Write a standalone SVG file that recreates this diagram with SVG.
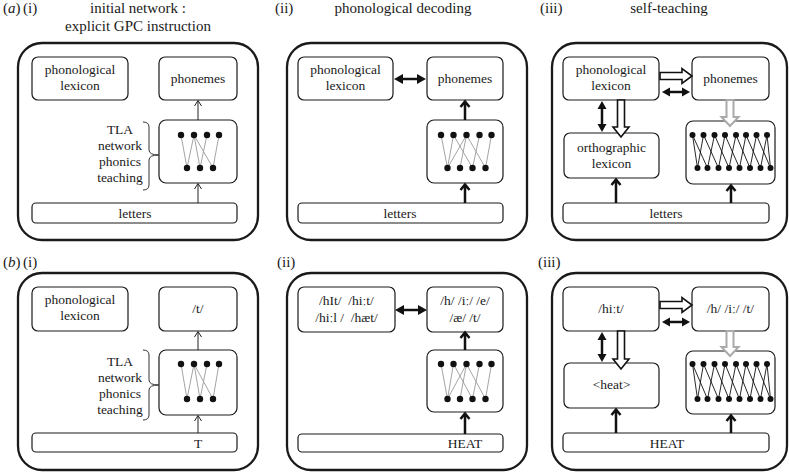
<svg xmlns="http://www.w3.org/2000/svg" width="789" height="473" viewBox="0 0 789 473">
<style>
.outer{fill:none;stroke:#1a1a1a;stroke-width:2.3}
.box{fill:#fff;stroke:#1a1a1a;stroke-width:1.2}
.t{font-family:"Liberation Serif","DejaVu Serif",serif;font-size:13.5px;fill:#1a1a1a;text-anchor:middle}
.title{font-family:"Liberation Serif","DejaVu Serif",serif;font-size:15px;fill:#1a1a1a}
.ct{text-anchor:middle}
.dot{fill:#111}
.gl{stroke:#9a9a9a;stroke-width:0.9}
.bl{stroke:#111;stroke-width:0.9}
.thin{fill:none;stroke:#222;stroke-width:1}
.thick{fill:none;stroke:#111;stroke-width:2.5}
.head{fill:#111}
.hollow{fill:#fff;stroke:#111;stroke-width:1.6}
.hollowg{fill:#fff;stroke:#aaa;stroke-width:2}
.brace{fill:none;stroke:#333;stroke-width:1}
</style>

<!-- titles -->
<g id="titles">
  <text class="title" x="3" y="13">(<tspan font-style="italic">a</tspan>)</text>
  <text class="title" x="23" y="13">(i)</text>
  <text class="title ct" x="138" y="13">initial network :</text>
  <text class="title ct" x="138" y="31">explicit GPC instruction</text>
  <text class="title" x="275" y="13">(ii)</text>
  <text class="title ct" x="403" y="13">phonological decoding</text>
  <text class="title" x="540" y="13">(iii)</text>
  <text class="title ct" x="669" y="13">self-teaching</text>
  <text class="title" x="3" y="267">(<tspan font-style="italic">b</tspan>)</text>
  <text class="title" x="23" y="267">(i)</text>
  <text class="title" x="277" y="267">(ii)</text>
  <text class="title" x="538" y="267">(iii)</text>
</g>

<!-- ===== (a)(i) ===== -->
<g id="a-i">
  <rect id="a-i-frame" class="outer" x="18" y="43" width="240" height="197" rx="24"/>
  <g id="a-i-lexicon"><rect class="box" x="32" y="57" width="96" height="43" rx="6"/>
    <text class="t" x="80" y="74">phonological</text><text class="t" x="80" y="90">lexicon</text></g>
  <g id="a-i-phonemes"><rect class="box" x="159" y="57" width="78" height="43" rx="6"/>
    <text class="t" x="198" y="83">phonemes</text></g>
  <g id="a-i-network"><rect class="box" x="159" y="120" width="78" height="63" rx="7"/>
    <g class="gl"><line x1="181" y1="135" x2="187" y2="168"/><line x1="194" y1="135" x2="187" y2="168"/><line x1="194" y1="135" x2="200" y2="168"/><line x1="194" y1="135" x2="213" y2="168"/><line x1="207" y1="135" x2="200" y2="168"/><line x1="219" y1="135" x2="213" y2="168"/></g>
    <g class="dot"><circle cx="181" cy="135" r="3.2"/><circle cx="194" cy="135" r="3.2"/><circle cx="207" cy="135" r="3.2"/><circle cx="219" cy="135" r="3.2"/><circle cx="187" cy="168" r="3.2"/><circle cx="200" cy="168" r="3.2"/><circle cx="213" cy="168" r="3.2"/></g></g>
  <g id="a-i-letters"><rect class="box" x="32" y="203" width="205" height="20" rx="4"/>
    <text class="t" x="135" y="218">letters</text></g>
  <g id="a-i-tla"><text class="t" x="120" y="134">TLA</text><text class="t" x="120" y="150">network</text><text class="t" x="120" y="166">phonics</text><text class="t" x="120" y="182">teaching</text>
    <path class="brace" d="M143,122 Q149,122 149,127 V150 Q149,155 159,155 Q149,155 149,160 V185 Q149,190 143,190"/></g>
</g>

<!-- ===== (a)(ii) ===== -->
<g id="a-ii">
  <rect id="a-ii-frame" class="outer" x="287" y="43" width="240" height="197" rx="24"/>
  <g id="a-ii-lexicon"><rect class="box" x="298" y="57" width="95" height="43" rx="6"/>
    <text class="t" x="345.5" y="74">phonological</text><text class="t" x="345.5" y="90">lexicon</text></g>
  <g id="a-ii-phonemes"><rect class="box" x="427" y="57" width="76" height="43" rx="6"/>
    <text class="t" x="465" y="83">phonemes</text></g>
  <g id="a-ii-network"><rect class="box" x="427" y="120" width="76" height="63" rx="7"/>
    <g class="gl"><line x1="441" y1="135" x2="447.5" y2="168"/><line x1="453.5" y1="135" x2="447.5" y2="168"/><line x1="453.5" y1="135" x2="472.5" y2="168"/><line x1="466.5" y1="135" x2="447.5" y2="168"/><line x1="466.5" y1="135" x2="460" y2="168"/><line x1="466.5" y1="135" x2="485.5" y2="168"/><line x1="479.5" y1="135" x2="472.5" y2="168"/><line x1="491.5" y1="135" x2="485.5" y2="168"/></g>
    <g class="dot"><circle cx="441" cy="135" r="3.2"/><circle cx="453.5" cy="135" r="3.2"/><circle cx="466.5" cy="135" r="3.2"/><circle cx="479.5" cy="135" r="3.2"/><circle cx="491.5" cy="135" r="3.2"/><circle cx="447.5" cy="168" r="3.2"/><circle cx="460" cy="168" r="3.2"/><circle cx="472.5" cy="168" r="3.2"/><circle cx="485.5" cy="168" r="3.2"/></g></g>
  <g id="a-ii-letters"><rect class="box" x="298" y="203" width="205" height="20" rx="4"/>
    <text class="t" x="400" y="218">letters</text></g>
</g>

<!-- ===== (a)(iii) ===== -->
<g id="a-iii">
  <rect id="a-iii-frame" class="outer" x="552" y="43" width="235" height="197" rx="24"/>
  <g id="a-iii-lexicon"><rect class="box" x="563" y="57" width="96" height="43" rx="6"/>
    <text class="t" x="611" y="74">phonological</text><text class="t" x="611" y="90">lexicon</text></g>
  <g id="a-iii-phonemes"><rect class="box" x="692" y="57" width="77" height="43" rx="6"/>
    <text class="t" x="730.5" y="83">phonemes</text></g>
  <g id="a-iii-ortho"><rect class="box" x="564" y="133" width="95" height="45" rx="6"/>
    <text class="t" x="611.5" y="152">orthographic</text><text class="t" x="611.5" y="168">lexicon</text></g>
  <g id="a-iii-network"><rect class="box" x="686" y="121" width="89" height="63" rx="7"/>
    <g class="bl"><line x1="692.5" y1="135" x2="697.5" y2="168"/><line x1="692.5" y1="135" x2="707.5" y2="168"/><line x1="703.5" y1="135" x2="697.5" y2="168"/><line x1="703.5" y1="135" x2="718.5" y2="168"/><line x1="714.5" y1="135" x2="707.5" y2="168"/><line x1="714.5" y1="135" x2="729" y2="168"/><line x1="725" y1="135" x2="718.5" y2="168"/><line x1="725" y1="135" x2="739.5" y2="168"/><line x1="736" y1="135" x2="729" y2="168"/><line x1="736" y1="135" x2="750" y2="168"/><line x1="746" y1="135" x2="739.5" y2="168"/><line x1="746" y1="135" x2="760.5" y2="168"/><line x1="756.5" y1="135" x2="750" y2="168"/><line x1="756.5" y1="135" x2="770.5" y2="168"/><line x1="767" y1="135" x2="760.5" y2="168"/><line x1="767" y1="135" x2="770.5" y2="168"/></g>
    <g class="dot"><circle cx="692.5" cy="135" r="3"/><circle cx="703.5" cy="135" r="3"/><circle cx="714.5" cy="135" r="3"/><circle cx="725" cy="135" r="3"/><circle cx="736" cy="135" r="3"/><circle cx="746" cy="135" r="3"/><circle cx="756.5" cy="135" r="3"/><circle cx="767" cy="135" r="3"/><circle cx="697.5" cy="168" r="3"/><circle cx="707.5" cy="168" r="3"/><circle cx="718.5" cy="168" r="3"/><circle cx="729" cy="168" r="3"/><circle cx="739.5" cy="168" r="3"/><circle cx="750" cy="168" r="3"/><circle cx="760.5" cy="168" r="3"/><circle cx="770.5" cy="168" r="3"/></g></g>
  <g id="a-iii-letters"><rect class="box" x="563" y="203" width="206" height="20" rx="4"/>
    <text class="t" x="666" y="218">letters</text></g>
</g>

<!-- ===== (b)(i) ===== -->
<g id="b-i" transform="translate(0,230)">
  <rect id="b-i-frame" class="outer" x="18" y="43" width="240" height="197" rx="24"/>
  <g id="b-i-lexicon"><rect class="box" x="32" y="57" width="96" height="44" rx="6"/>
    <text class="t" x="80" y="74">phonological</text><text class="t" x="80" y="90">lexicon</text></g>
  <g id="b-i-phoneme"><rect class="box" x="159" y="57" width="78" height="44" rx="6"/>
    <text class="t" x="198" y="83">/t/</text></g>
  <g id="b-i-network"><rect class="box" x="159" y="120" width="78" height="65" rx="7"/>
    <g class="gl"><line x1="181" y1="134" x2="187" y2="169"/><line x1="194" y1="134" x2="187" y2="169"/><line x1="194" y1="134" x2="200" y2="169"/><line x1="194" y1="134" x2="213" y2="169"/><line x1="207" y1="134" x2="200" y2="169"/><line x1="219" y1="134" x2="213" y2="169"/></g>
    <g class="dot"><circle cx="181" cy="134" r="3.2"/><circle cx="194" cy="134" r="3.2"/><circle cx="207" cy="134" r="3.2"/><circle cx="219" cy="134" r="3.2"/><circle cx="187" cy="169" r="3.2"/><circle cx="200" cy="169" r="3.2"/><circle cx="213" cy="169" r="3.2"/></g></g>
  <g id="b-i-letters"><rect class="box" x="32" y="203" width="205" height="19" rx="4"/>
    <text class="t" x="198" y="218">T</text></g>
  <g id="b-i-tla"><text class="t" x="120" y="136">TLA</text><text class="t" x="120" y="152">network</text><text class="t" x="120" y="168">phonics</text><text class="t" x="120" y="184">teaching</text>
    <path class="brace" d="M143,120 Q149,120 149,125 V150 Q149,155 159,155 Q149,155 149,160 V185 Q149,190 143,190"/></g>
</g>

<!-- ===== (b)(ii) ===== -->
<g id="b-ii" transform="translate(0,230)">
  <rect id="b-ii-frame" class="outer" x="287" y="43" width="240" height="197" rx="24"/>
  <g id="b-ii-lexicon"><rect class="box" x="298" y="57" width="97" height="45" rx="6"/>
    <text class="t" x="346.5" y="75">/hIt/&#160; /hiːt/</text><text class="t" x="346.5" y="92">/hiːl /&#160; /hæt/</text></g>
  <g id="b-ii-phonemes"><rect class="box" x="427" y="57" width="76" height="45" rx="6"/>
    <text class="t" x="465" y="75">/h/ /iː/ /e/</text><text class="t" x="465" y="92">/æ/ /t/</text></g>
  <g id="b-ii-network"><rect class="box" x="427" y="120" width="76" height="62" rx="7"/>
    <g class="gl"><line x1="441" y1="134" x2="447.5" y2="169"/><line x1="453.5" y1="134" x2="447.5" y2="169"/><line x1="453.5" y1="134" x2="472.5" y2="169"/><line x1="466.5" y1="134" x2="447.5" y2="169"/><line x1="466.5" y1="134" x2="460" y2="169"/><line x1="466.5" y1="134" x2="485.5" y2="169"/><line x1="479.5" y1="134" x2="472.5" y2="169"/><line x1="491.5" y1="134" x2="485.5" y2="169"/></g>
    <g class="dot"><circle cx="441" cy="134" r="3.2"/><circle cx="453.5" cy="134" r="3.2"/><circle cx="466.5" cy="134" r="3.2"/><circle cx="479.5" cy="134" r="3.2"/><circle cx="491.5" cy="134" r="3.2"/><circle cx="447.5" cy="169" r="3.2"/><circle cx="460" cy="169" r="3.2"/><circle cx="472.5" cy="169" r="3.2"/><circle cx="485.5" cy="169" r="3.2"/></g></g>
  <g id="b-ii-letters"><rect class="box" x="298" y="204" width="205" height="18" rx="4"/>
    <text class="t" x="465" y="218">HEAT</text></g>
</g>

<!-- ===== (b)(iii) ===== -->
<g id="b-iii" transform="translate(0,230)">
  <rect id="b-iii-frame" class="outer" x="552" y="43" width="235" height="197" rx="24"/>
  <g id="b-iii-lexicon"><rect class="box" x="563" y="57" width="96" height="44" rx="6"/>
    <text class="t" x="611" y="83">/hiːt/</text></g>
  <g id="b-iii-phonemes"><rect class="box" x="692" y="57" width="77" height="44" rx="6"/>
    <text class="t" x="730.5" y="83">/h/ /iː/ /t/</text></g>
  <g id="b-iii-ortho"><rect class="box" x="564" y="133" width="95" height="45" rx="6"/>
    <text class="t" x="611.5" y="159">&lt;heat&gt;</text></g>
  <g id="b-iii-network"><rect class="box" x="686" y="121" width="89" height="63" rx="7"/>
    <g class="bl"><line x1="692.5" y1="134" x2="697.5" y2="169"/><line x1="692.5" y1="134" x2="707.5" y2="169"/><line x1="703.5" y1="134" x2="697.5" y2="169"/><line x1="703.5" y1="134" x2="718.5" y2="169"/><line x1="714.5" y1="134" x2="707.5" y2="169"/><line x1="714.5" y1="134" x2="729" y2="169"/><line x1="725" y1="134" x2="718.5" y2="169"/><line x1="725" y1="134" x2="739.5" y2="169"/><line x1="736" y1="134" x2="729" y2="169"/><line x1="736" y1="134" x2="750" y2="169"/><line x1="746" y1="134" x2="739.5" y2="169"/><line x1="746" y1="134" x2="760.5" y2="169"/><line x1="756.5" y1="134" x2="750" y2="169"/><line x1="756.5" y1="134" x2="770.5" y2="169"/><line x1="767" y1="134" x2="760.5" y2="169"/><line x1="767" y1="134" x2="770.5" y2="169"/></g>
    <g class="dot"><circle cx="692.5" cy="134" r="3"/><circle cx="703.5" cy="134" r="3"/><circle cx="714.5" cy="134" r="3"/><circle cx="725" cy="134" r="3"/><circle cx="736" cy="134" r="3"/><circle cx="746" cy="134" r="3"/><circle cx="756.5" cy="134" r="3"/><circle cx="767" cy="134" r="3"/><circle cx="697.5" cy="169" r="3"/><circle cx="707.5" cy="169" r="3"/><circle cx="718.5" cy="169" r="3"/><circle cx="729" cy="169" r="3"/><circle cx="739.5" cy="169" r="3"/><circle cx="750" cy="169" r="3"/><circle cx="760.5" cy="169" r="3"/><circle cx="770.5" cy="169" r="3"/></g></g>
  <g id="b-iii-letters"><rect class="box" x="563" y="203" width="206" height="19" rx="4"/>
    <text class="t" x="667" y="218">HEAT</text></g>
</g>

<!-- ===== connectors ===== -->
<g id="connectors">
  <g id="conn-a">
    <path class="thin" d="M198,203 V184 M194.5,189 L198,183.5 L201.5,189"/>
    <path class="thin" d="M198,120 V101 M194.5,106 L198,100.5 L201.5,106"/>
    <path class="thick" d="M465,203 V185 M460.5,190 L465,184.5 L469.5,190"/>
    <path class="thick" d="M465,120 V102 M460.5,107 L465,101.5 L469.5,107"/>
    <path class="thick" d="M402,79 H418"/>
    <polygon class="head" points="394,79 403,74 403,84"/><polygon class="head" points="426,79 417,74 417,84"/>
    <polygon class="hollow" points="660,72.5 682,72.5 682,68.5 692,76 682,83.5 682,79.5 660,79.5"/>
    <path class="thick" d="M669,92 H683"/>
    <polygon class="head" points="662,92 670,87.5 670,96.5"/><polygon class="head" points="690,92 682,87.5 682,96.5"/>
    <path class="thick" d="M602,108 V125"/>
    <polygon class="head" points="602,101 597.5,109 606.5,109"/><polygon class="head" points="602,132 597.5,124 606.5,124"/>
    <polygon class="hollow" points="617.5,100 624.5,100 624.5,127 629,127 621,137 613,127 617.5,127"/>
    <polygon class="hollowg" points="726.5,100 733.5,100 733.5,117 738.5,117 730,126 721.5,117 726.5,117"/>
    <path class="thick" d="M616,203 V180 M611.5,185 L616,179.5 L620.5,185"/>
    <path class="thick" d="M731,203 V186 M726.5,191 L731,185.5 L735.5,191"/>
  </g>
  <g id="conn-b" transform="translate(0,230)">
    <path class="thin" d="M198,203 V186 M194.5,191 L198,185.5 L201.5,191"/>
    <path class="thin" d="M198,120 V102 M194.5,107 L198,101.5 L201.5,107"/>
    <path class="thick" d="M465,204 V184 M460.5,189 L465,183.5 L469.5,189"/>
    <path class="thick" d="M465,120 V103 M460.5,108 L465,102.5 L469.5,108"/>
    <path class="thick" d="M403,80 H419"/>
    <polygon class="head" points="395,80 404,75 404,85"/><polygon class="head" points="427,80 418,75 418,85"/>
    <polygon class="hollow" points="660,71.5 682,71.5 682,67.5 692,75 682,82.5 682,78.5 660,78.5"/>
    <path class="thick" d="M669,92 H683"/>
    <polygon class="head" points="662,92 670,87.5 670,96.5"/><polygon class="head" points="690,92 682,87.5 682,96.5"/>
    <path class="thick" d="M602,109 V125"/>
    <polygon class="head" points="602,102 597.5,110 606.5,110"/><polygon class="head" points="602,132 597.5,124 606.5,124"/>
    <polygon class="hollow" points="617.5,101 624.5,101 624.5,129 629,129 621,139 613,129 617.5,129"/>
    <polygon class="hollowg" points="726.5,101 733.5,101 733.5,117 738.5,117 730,126 721.5,117 726.5,117"/>
    <path class="thick" d="M616,203 V180 M611.5,185 L616,179.5 L620.5,185"/>
    <path class="thick" d="M731,203 V186 M726.5,191 L731,185.5 L735.5,191"/>
  </g>
</g>
</svg>
